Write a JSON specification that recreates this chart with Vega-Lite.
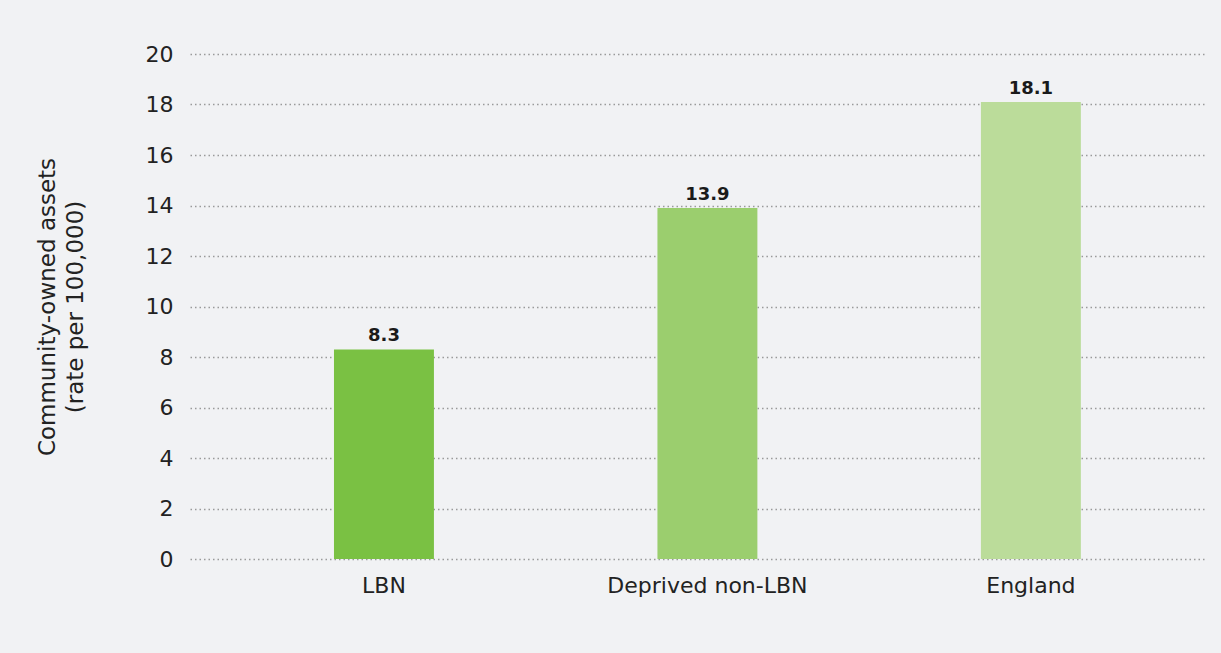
{
  "$schema": "https://vega.github.io/schema/vega-lite/v6.json",
  "autosize": "none",
  "width": 1016,
  "height": 505,
  "padding": {"left": 190, "top": 54, "right": 15, "bottom": 94},
  "background": "#F1F2F4",
  "data": {
    "values": [
      {"group": "LBN", "rate": 8.3},
      {"group": "Deprived non-LBN", "rate": 13.9},
      {"group": "England", "rate": 18.1}
    ]
  },
  "encoding": {
    "x": {
      "field": "group",
      "type": "nominal",
      "sort": null,
      "scale": {"paddingInner": 0.691, "paddingOuter": 0.416, "align": 0.535},
      "axis": {
        "title": null,
        "labelAngle": 0,
        "labelLimit": 400,
        "domain": false,
        "ticks": false,
        "grid": false,
        "labelPadding": 16,
        "labelFontSize": 22,
        "labelColor": "#222222",
        "labelFont": "DejaVu Sans"
      }
    },
    "y": {
      "field": "rate",
      "type": "quantitative",
      "scale": {"domain": [0, 20], "nice": false},
      "axis": {
        "values": [0, 2, 4, 6, 8, 10, 12, 14, 16, 18, 20],
        "title": ["Community-owned assets", "(rate per 100,000)"],
        "titleFont": "DejaVu Sans",
        "titleFontSize": 23,
        "titleFontWeight": "normal",
        "titleColor": "#222222",
        "titlePadding": 58,
        "titleLineHeight": 28,
        "domain": false,
        "ticks": false,
        "labelPadding": 17,
        "labelFontSize": 22,
        "labelColor": "#222222",
        "labelFont": "DejaVu Sans",
        "grid": true,
        "gridColor": "#9a9a9a",
        "gridDash": [1.5, 3],
        "gridWidth": 1.5
      }
    }
  },
  "layer": [
    {
      "mark": {"type": "bar"},
      "encoding": {
        "color": {
          "field": "group",
          "type": "nominal",
          "sort": null,
          "scale": {"domain": ["LBN", "Deprived non-LBN", "England"], "range": ["#7AC143", "#9BCE6E", "#BBDC9A"]},
          "legend": null
        }
      }
    },
    {
      "mark": {"type": "text", "baseline": "alphabetic", "dy": -8, "font": "DejaVu Sans", "fontSize": 18, "fontWeight": "bold", "color": "#1a1a1a"},
      "encoding": {"text": {"field": "rate", "type": "quantitative", "format": ".1f"}}
    }
  ],
  "config": {"view": {"stroke": null}}
}
